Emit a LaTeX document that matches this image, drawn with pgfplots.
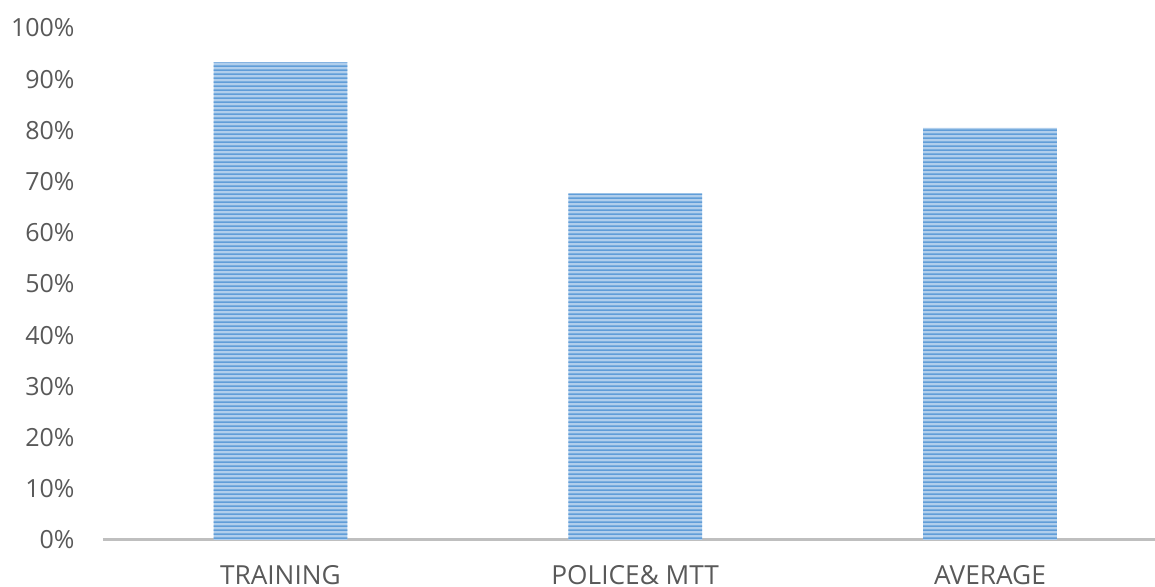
\documentclass[border=0pt]{standalone}
\usepackage{fontspec}
\setmainfont{Open Sans}
\usepackage{pgfplots}
\pgfplotsset{compat=1.18}
\usetikzlibrary{patterns.meta,calc}
\definecolor{barFill}{RGB}{176,206,236}
\definecolor{barLine}{RGB}{96,157,216}
\definecolor{txtGray}{RGB}{89,89,89}
\definecolor{axGray}{RGB}{191,191,191}

\tikzdeclarepattern{
  name=hstripes,
  type=uncolored,
  bottom left={(0pt,0pt)},
  top right={(600pt,1.6pt)},
  tile size={(600pt,1.6pt)},
  code={\fill (0pt,0pt) rectangle (600pt,0.8pt);}
}

\begin{document}
\begin{tikzpicture}
\begin{axis}[
    scale only axis,
    width=420.8pt, height=204.8pt,
    xmin=-0.5, xmax=2.465,
    ymin=0, ymax=100,
    axis x line*=bottom, axis y line*=left,
    y axis line style={draw=none},
    x axis line style={draw=axGray, line width=1.2pt},
    major tick length=0pt,
    xtick=data,
    xticklabels={TRAINING, POLICE\& MTT, AVERAGE},
    ytick={0,10,...,100},
    yticklabels={0\%,10\%,20\%,30\%,40\%,50\%,60\%,70\%,80\%,90\%,100\%},
    yticklabel style={font=\fontsize{10}{12}\selectfont, text=txtGray, anchor=east, inner sep=0pt, xshift=-11.2pt},
    xticklabel style={font=\fontsize{10.5}{12}\selectfont, text=txtGray, anchor=north, inner sep=0pt, yshift=-10pt},
    ybar, bar width=0.377,
    clip=false,
]
\addplot[draw=none, fill=barFill, postaction={pattern=hstripes, pattern color=barLine}]
    coordinates {(0,93.3) (1,67.7) (2,80.5)};
\coordinate (bl) at (rel axis cs:0,0);
\coordinate (tr) at (rel axis cs:1,1);
\end{axis}
\pgfresetboundingbox
\path ($(bl)+(-41.2pt,-18.8pt)$) rectangle ($(tr)+(0pt,11.2pt)$);
\end{tikzpicture}
\end{document}
